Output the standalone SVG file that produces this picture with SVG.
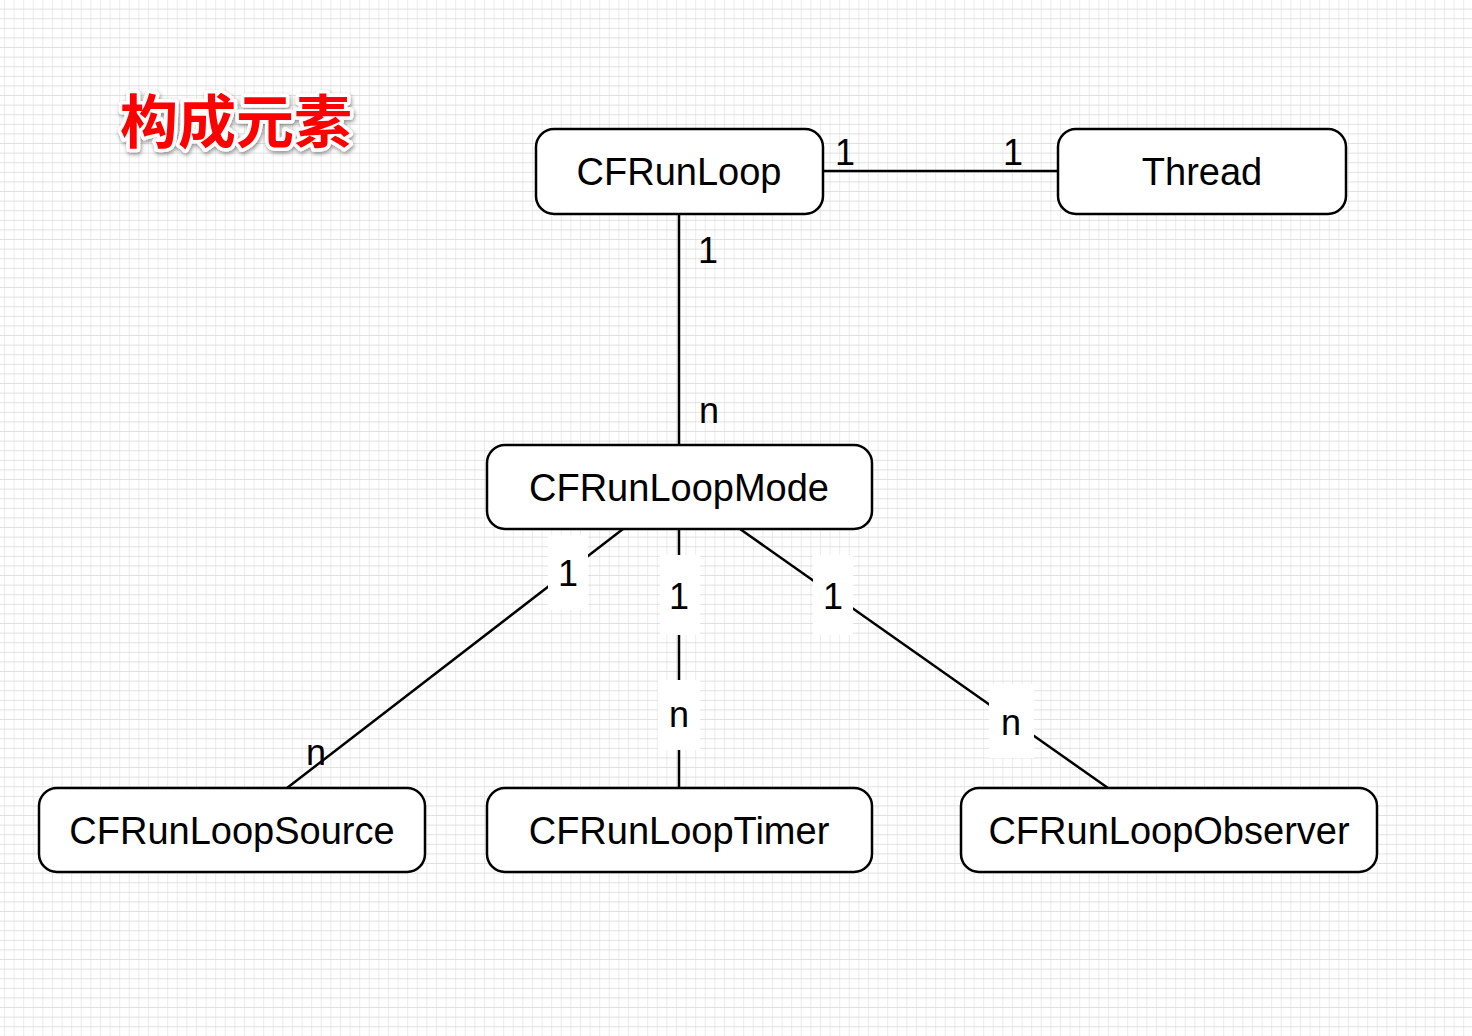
<svg xmlns="http://www.w3.org/2000/svg" width="1472" height="1036" viewBox="0 0 1472 1036">
<style>
.node rect{fill:#fff;stroke:#000;stroke-width:2.5}
.node text{font-family:"Liberation Sans",Arial,sans-serif;font-size:38px;fill:#000;text-anchor:middle}
.edge{stroke:#000;stroke-width:2.5;fill:none}
.lbl{font-family:"Liberation Sans",Arial,sans-serif;font-size:36px;fill:#000;text-anchor:middle}
.lblbg{fill:#fff}
.title{font-family:"Noto Sans CJK SC","Noto Sans",sans-serif;font-weight:bold;font-size:58px;fill:#ff0000;stroke:#fff;stroke-width:7;paint-order:stroke;stroke-linejoin:round}
</style>
<defs>
<pattern id="grid" x="4" y="0" width="9.6" height="9.6" patternUnits="userSpaceOnUse">
<path d="M0 0V9.6M0 9.4H9.6" stroke="#d8d8d8" stroke-width="1" fill="none"/>
</pattern>
<filter id="sh" x="-10%" y="-20%" width="120%" height="140%">
<feDropShadow dx="1" dy="2" stdDeviation="2" flood-color="#000" flood-opacity="0.45"/>
</filter>
</defs>
<rect width="1472" height="1036" fill="#fff"/>
<rect width="1472" height="1036" fill="url(#grid)"/>
<text class="title" x="120" y="143" filter="url(#sh)">构成元素</text>
<g id="connectors">
<line class="edge" x1="823" y1="171" x2="1058" y2="171"/>
<line class="edge" x1="679" y1="214" x2="679" y2="445"/>
<line class="edge" x1="623" y1="529" x2="287" y2="788"/>
<line class="edge" x1="679" y1="529" x2="679" y2="788"/>
<line class="edge" x1="740" y1="529" x2="1108" y2="788"/>
<text class="lbl" x="845" y="165">1</text>
<text class="lbl" x="1013" y="165">1</text>
<text class="lbl" x="708" y="263">1</text>
<text class="lbl" x="709" y="423">n</text>
<rect class="lblbg" x="548" y="535" width="40" height="75"/>
<text class="lbl" x="568" y="586">1</text>
<rect class="lblbg" x="660" y="555" width="40" height="80"/>
<text class="lbl" x="679" y="609">1</text>
<rect class="lblbg" x="813" y="555" width="40" height="80"/>
<text class="lbl" x="833" y="609">1</text>
<rect class="lblbg" x="658" y="680" width="42" height="70"/>
<text class="lbl" x="679" y="727">n</text>
<rect class="lblbg" x="989" y="684" width="45" height="74"/>
<text class="lbl" x="1011" y="735">n</text>
<text class="lbl" x="316" y="765">n</text>
</g>
<g id="CFRunLoop" class="node"><rect x="536" y="129" width="287" height="85" rx="18"/><text x="679" y="185">CFRunLoop</text></g>
<g id="Thread" class="node"><rect x="1058" y="129" width="288" height="85" rx="18"/><text x="1202" y="185">Thread</text></g>
<g id="CFRunLoopMode" class="node"><rect x="487" y="445" width="385" height="84" rx="18"/><text x="679" y="501">CFRunLoopMode</text></g>
<g id="CFRunLoopSource" class="node"><rect x="39" y="788" width="386" height="84" rx="18"/><text x="232" y="844">CFRunLoopSource</text></g>
<g id="CFRunLoopTimer" class="node"><rect x="487" y="788" width="385" height="84" rx="18"/><text x="679" y="844">CFRunLoopTimer</text></g>
<g id="CFRunLoopObserver" class="node"><rect x="961" y="788" width="416" height="84" rx="18"/><text x="1169" y="844">CFRunLoopObserver</text></g>
</svg>
